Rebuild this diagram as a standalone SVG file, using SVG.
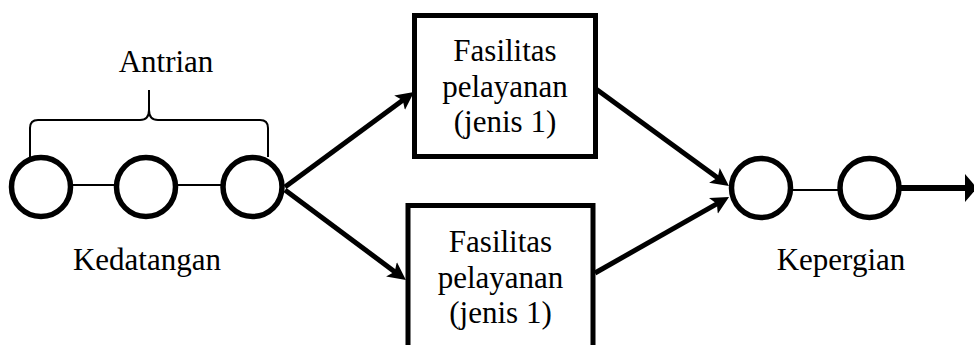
<svg xmlns="http://www.w3.org/2000/svg" width="974" height="345" viewBox="0 0 974 345">
<style>
.t{font-family:"Liberation Serif","Times New Roman",serif;font-size:31px;fill:#000;text-anchor:middle}
.c{fill:#fff;stroke:#000;stroke-width:5.5}
.b{fill:#fff;stroke:#000;stroke-width:5}
.thin{stroke:#000;stroke-width:2;fill:none}
.arr{stroke:#000;stroke-width:5;fill:none;marker-end:url(#ah)}
</style>
<defs>
<marker id="ah" markerUnits="userSpaceOnUse" viewBox="0 0 18 20" markerWidth="18" markerHeight="20" refX="9" refY="10" orient="auto">
<path d="M0,1 L18,10 L0,19 L4,10 Z" fill="#000"/>
</marker>
<marker id="ahb" markerUnits="userSpaceOnUse" viewBox="0 0 12 28" markerWidth="12" markerHeight="28" refX="3" refY="14" orient="auto">
<path d="M0,0 L12,14 L0,28 Z" fill="#000"/>
</marker>
</defs>
<rect width="974" height="345" fill="#fff"/>
<g id="connectors">
<line class="thin" x1="70" y1="185" x2="117" y2="185"/>
<line class="thin" x1="175" y1="185" x2="223" y2="185"/>
<line class="thin" x1="790" y1="190" x2="840" y2="190"/>
<line class="arr" x1="285" y1="187" x2="406.8" y2="97.3"/>
<line class="arr" x1="285" y1="190" x2="398.7" y2="274.7"/>
<line class="arr" x1="596" y1="89" x2="721.7" y2="180.7"/>
<line class="arr" x1="595" y1="273" x2="721.2" y2="201.4"/>
<line x1="899" y1="188" x2="968" y2="188" stroke="#000" stroke-width="6" marker-end="url(#ahb)"/>
</g>
<g id="antrian">
<path class="thin" d="M30,157 V128 Q30,120 38,120 H140 Q149,120 149,110 V90 M149,110 Q149,120 158,120 H260 Q268,120 268,128 V157"/>
<text class="t" x="166" y="72">Antrian</text>
</g>
<g id="q1"><circle class="c" cx="41" cy="187" r="29.5"/></g>
<g id="q2"><circle class="c" cx="146" cy="187" r="29.5"/></g>
<g id="q3"><circle class="c" cx="252.5" cy="187" r="29.5"/></g>
<g id="kedatangan"><text class="t" x="147" y="270">Kedatangan</text></g>
<g id="fasilitas1">
<rect class="b" x="414.5" y="15.5" width="181" height="141"/>
<text class="t" x="505" y="61">Fasilitas</text>
<text class="t" x="505" y="96.5">pelayanan</text>
<text class="t" x="505" y="132">(jenis 1)</text>
</g>
<g id="fasilitas2">
<rect class="b" x="408" y="205.5" width="185" height="160"/>
<text class="t" x="500.5" y="252">Fasilitas</text>
<text class="t" x="500.5" y="287.5">pelayanan</text>
<text class="t" x="500.5" y="323">(jenis 1)</text>
</g>
<g id="k1"><circle class="c" cx="761" cy="188" r="29.5"/></g>
<g id="k2"><circle class="c" cx="869.5" cy="188" r="29.5"/></g>
<g id="kepergian"><text class="t" x="841" y="270">Kepergian</text></g>
</svg>
